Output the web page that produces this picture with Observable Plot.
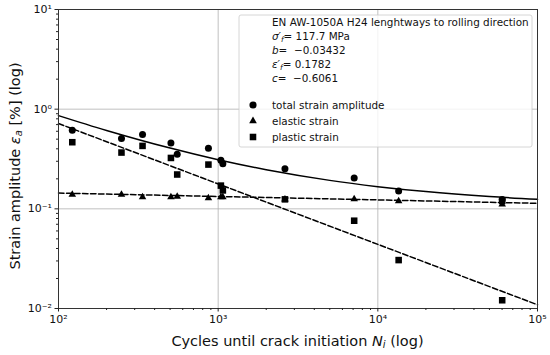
<!DOCTYPE html>
<html><head><meta charset="utf-8">
<script src="https://cdn.jsdelivr.net/npm/d3@7"></script>
<script src="https://cdn.jsdelivr.net/npm/@observablehq/plot@0.6"></script>
<style>body{margin:0;background:#fff}</style>
</head><body><div id="chart"></div>
<script>
// Measured data (cycles N_i, strain amplitude in %)
const N_total = [122, 248, 336, 506, 554, 869, 1040, 1070, 2620, 7110, 13500, 60100];
const eps_total = [0.615, 0.508, 0.557, 0.458, 0.353, 0.406, 0.307, 0.284, 0.253, 0.204, 0.151, 0.124];
const N_elastic = [122, 248, 336, 506, 554, 869, 1040, 1070, 2620, 7110, 13500, 60100];
const eps_elastic = [0.139, 0.139, 0.1315, 0.1315, 0.133, 0.1285, 0.131, 0.131, 0.1245, 0.1254, 0.1198, 0.111];
const N_plastic = [122, 248, 336, 506, 554, 869, 1040, 1070, 2620, 7110, 13500, 60100, 60100];
const eps_plastic = [0.466, 0.367, 0.428, 0.324, 0.221, 0.278, 0.171, 0.153, 0.1245, 0.076, 0.0306, 0.0121, 0.12];
// Fitted curves
const fitN = [100, 100000];
const fitElastic = [0.144, 0.1136];
const fitPlastic = [0.718, 0.0109];
const totalN = [100, 200, 500, 1000, 2000, 5000, 10000, 20000, 50000, 100000];
const totalFit = [0.862, 0.612, 0.407, 0.311, 0.247, 0.193, 0.167, 0.149, 0.133, 0.1245];
// Ticks
const xMajor = [1e2, 1e3, 1e4, 1e5];
const yMajor = [1e-2, 1e-1, 1e0, 1e1];
const xGrid = [1e3, 1e4];
const yGrid = [1e-1, 1e0];
const legendInfo = ["EN AW-1050A H24 lenghtways to rolling direction"];
const seriesNames = ["total strain amplitude", "elastic strain", "plastic strain"];

const minors = ext => { const out = []; for (let d = ext[0]; d < ext[1]; d *= 10) for (let k = 2; k <= 9; k++) out.push(d * k); return out; };
const xMinor = minors([1e2, 1e5]);
const yMinor = minors([1e-2, 1e1]);

const sup = s => String(s).replace(/[-0-9]/g, c => "⁻⁰¹²³⁴⁵⁶⁷⁸⁹"["-0123456789".indexOf(c)]);
const fmt = v => "10" + sup(Math.round(Math.log10(v)));

const pts = (xs, ys) => xs.map((x, i) => ({x, y: ys[i]}));
const total = pts(N_total, eps_total), elastic = pts(N_elastic, eps_elastic), plastic = pts(N_plastic, eps_plastic);
const fe = pts(fitN, fitElastic), fp = pts(fitN, fitPlastic), ft = pts(totalN, totalFit);

const chart = Plot.plot({
  width: 550, height: 355,
  marginLeft: 58, marginRight: 13, marginTop: 9, marginBottom: 47,
  style: {fontFamily: "DejaVu Sans", fontSize: "11px", background: "#fff", color: "#222"},
  x: {type: "log", domain: [1e2, 1e5]},
  y: {type: "log", domain: [1e-2, 1e1]},
  marks: [
    Plot.gridX(xGrid, {stroke: "#b0b0b0", strokeOpacity: 1, strokeWidth: 0.8}),
    Plot.gridY(yGrid, {stroke: "#b0b0b0", strokeOpacity: 1, strokeWidth: 0.8}),
    Plot.line(ft, {x: "x", y: "y", curve: "catmull-rom", stroke: "#000", strokeWidth: 1.5}),
    Plot.line(fe, {x: "x", y: "y", stroke: "#000", strokeWidth: 1.5, strokeDasharray: "5.5,2.5"}),
    Plot.line(fp, {x: "x", y: "y", stroke: "#000", strokeWidth: 1.5, strokeDasharray: "5.5,2.5"}),
    Plot.dot(total, {x: "x", y: "y", symbol: "circle", fill: "#000", r: 3.5}),
    Plot.dot(elastic, {x: "x", y: "y", symbol: "triangle", fill: "#000", r: 2.8}),
    Plot.dot(plastic, {x: "x", y: "y", symbol: "square", fill: "#000", r: 3.7}),
    Plot.frame({stroke: "#333", strokeWidth: 1}),
    Plot.axisX({ticks: xMajor, tickFormat: fmt, tickSize: 3.5, tickPadding: 3, label: null, fontSize: 11, fill: "#111"}),
    Plot.axisX({ticks: xMinor, tickFormat: () => "", tickSize: 2, label: null}),
    Plot.axisY({ticks: yMajor, tickFormat: fmt, tickSize: 3.5, tickPadding: 3, label: null, fontSize: 11, fill: "#111"}),
    Plot.axisY({ticks: yMinor, tickFormat: () => "", tickSize: 2, label: null})
  ]
});
document.getElementById("chart").appendChild(chart);

const svg = d3.select(chart);
const font = "DejaVu Sans";
// axis labels
const xl = svg.append("text").attr("x", 297.5).attr("y", 341).style("text-anchor", "middle")
  .attr("dominant-baseline", "central").style("font-family", font).style("font-size", "14.5px").style("fill", "#111");
xl.append("tspan").text("Cycles until crack initiation ");
xl.append("tspan").style("font-style", "italic").text("N");
xl.append("tspan").style("font-style", "italic").style("font-size", "10px").attr("dy", 3).text("i");
xl.append("tspan").attr("dy", -3).text(" (log)");

const yl = svg.append("text").attr("transform", "translate(14.5,166) rotate(-90)").style("text-anchor", "middle")
  .attr("dominant-baseline", "central").style("font-family", font).style("font-size", "14.5px").style("fill", "#111");
yl.append("tspan").text("Strain amplitude ");
yl.append("tspan").style("font-style", "italic").text("ε");
yl.append("tspan").style("font-style", "italic").style("font-size", "10px").attr("dy", 3).text("a");
yl.append("tspan").attr("dy", -3).text(" [%] (log)");

// legend
const lg = svg.append("g");
lg.append("rect").attr("x", 239).attr("y", 15).attr("width", 293).attr("height", 132).attr("rx", 2)
  .style("fill", "#fff").style("fill-opacity", 0.8).style("stroke", "#ccc").style("stroke-width", 0.8);
const line = (y) => lg.append("text").attr("x", 272).attr("y", y).attr("dominant-baseline", "central")
  .style("text-anchor", "start").style("font-family", font).style("font-size", "10.4px").style("fill", "#111");
line(22).text(legendInfo[0]);
let t = line(36);
t.append("tspan").style("font-style", "italic").text("σ′");
t.append("tspan").style("font-style", "italic").style("font-size", "7.5px").attr("dy", 2.5).text("f");
t.append("tspan").attr("dy", -2.5).text("= 117.7 MPa");
t = line(50);
t.append("tspan").style("font-style", "italic").text("b");
t.append("tspan").text("=  −0.03432");
t = line(64);
t.append("tspan").style("font-style", "italic").text("ε′");
t.append("tspan").style("font-style", "italic").style("font-size", "7.5px").attr("dy", 2.5).text("f");
t.append("tspan").attr("dy", -2.5).text("= 0.1782");
t = line(78);
t.append("tspan").style("font-style", "italic").text("c");
t.append("tspan").text("=  −0.6061");
const syms = [[d3.symbolCircle, 40], [d3.symbolTriangle, 25], [d3.symbolSquare, 43]];
seriesNames.forEach((name, i) => {
  const y = 105 + i * 16;
  lg.append("path").attr("d", d3.symbol().type(syms[i][0]).size(syms[i][1])()).attr("transform", `translate(253,${y})`).style("fill", "#000");
  line(y).text(name);
});
</script></body></html>
